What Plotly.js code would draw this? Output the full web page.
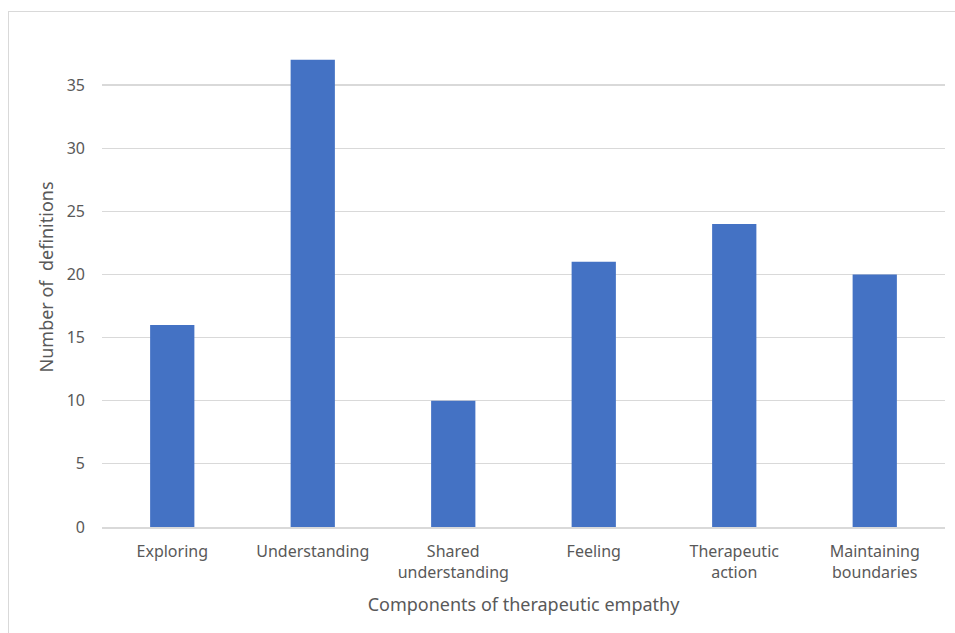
<!DOCTYPE html>
<html>
<head>
<meta charset="utf-8">
<script src="https://cdn.plot.ly/plotly-3.0.1.min.js"></script>
<style>
  html, body { margin: 0; padding: 0; background: #ffffff; overflow: hidden; }
  #frame { position: absolute; left: 8px; top: 11px; width: 960px; height: 640px;
           border: 1px solid #d9d9d9; box-sizing: border-box; }
  #chart { position: absolute; left: 0; top: 0; width: 955px; height: 633px; }
</style>
</head>
<body>
<div id="frame"></div>
<div id="chart"></div>
<script>
// Components of therapeutic empathy and how many definitions mention each
const categories = [
  "Exploring",
  "Understanding",
  "Shared<br>understanding",
  "Feeling",
  "Therapeutic<br>action",
  "Maintaining<br>boundaries"
];
const definitionCounts = [16, 37, 10, 21, 24, 20];
const yTicks = [0, 5, 10, 15, 20, 25, 30, 35];

const textColor = "#595959";
const fontFamily = "'Noto Sans', 'Open Sans', sans-serif";

const trace = {
  type: "bar",
  x: categories,
  y: definitionCounts,
  marker: { color: "#4472C4" },
  hoverinfo: "x+y"
};

const layout = {
  width: 955,
  height: 633,
  margin: { l: 102, r: 10, t: 27, b: 106 },
  paper_bgcolor: "rgba(0,0,0,0)",
  plot_bgcolor: "rgba(0,0,0,0)",
  bargap: 0.685,
  showlegend: false,
  font: { family: fontFamily, color: textColor, size: 16 },
  xaxis: {
    type: "category",
    showgrid: false,
    showline: true,
    linecolor: "#d9d9d9",
    linewidth: 1.5,
    ticks: "",
    tickfont: { size: 16, color: textColor },
    ticklabelstandoff: 9,
    title: {
      text: "Components of therapeutic empathy",
      font: { size: 18, color: textColor },
      standoff: 17
    }
  },
  yaxis: {
    range: [0, 39.6],
    tickvals: yTicks,
    ticktext: yTicks.map(String),
    showgrid: true,
    gridcolor: "#d9d9d9",
    gridwidth: 1.2,
    zeroline: false,
    showline: false,
    ticks: "",
    ticklabelstandoff: 16,
    tickfont: { size: 16, color: textColor },
    title: {
      text: "Number of  definitions",
      font: { size: 18, color: textColor },
      standoff: 8
    }
  }
};

Plotly.newPlot("chart", [trace], layout, { displayModeBar: false, staticPlot: true });
</script>
</body>
</html>
